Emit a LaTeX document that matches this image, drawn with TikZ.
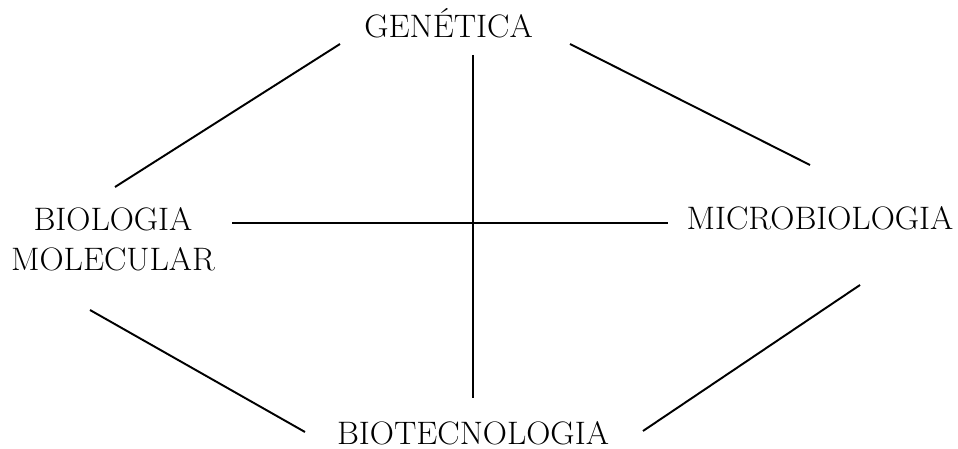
\documentclass[tikz,border=0pt]{standalone}
\usepackage{fontspec}
\setmainfont{Latin Modern Roman}[FakeStretch=1.03]
\begin{document}
\begin{tikzpicture}[x=0.02cm,y=-0.02cm,
  lbl/.style={inner sep=0pt,font=\fontsize{18.5}{22.8}\selectfont,align=center},
  conn/.style={line width=1.1pt}]
\useasboundingbox (0,0) rectangle (958,449);
\node[lbl,anchor=base] (gen) at (448.5,38) {GENÉTICA};
\node[lbl,anchor=center] (bm) at (113,239) {BIOLOGIA\\MOLECULAR};
\node[lbl,anchor=base] (mic) at (820,230) {MICROBIOLOGIA};
\node[lbl,anchor=base] (bio) at (473,444.5) {BIOTECNOLOGIA};
\coordinate (g1) at (340,44);
\coordinate (b1) at (115,187);
\coordinate (g2) at (570,44);
\coordinate (m1) at (810,165);
\coordinate (g3) at (473,55);
\coordinate (t1) at (473,398);
\coordinate (b2) at (232,223);
\coordinate (m2) at (668,223);
\coordinate (b3) at (90,310);
\coordinate (t2) at (305,432);
\coordinate (m3) at (860,285);
\coordinate (t3) at (643,431);
\draw[conn] (g1) -- (b1);
\draw[conn] (g2) -- (m1);
\draw[conn] (g3) -- (t1);
\draw[conn] (b2) -- (m2);
\draw[conn] (b3) -- (t2);
\draw[conn] (m3) -- (t3);
\end{tikzpicture}
\end{document}
